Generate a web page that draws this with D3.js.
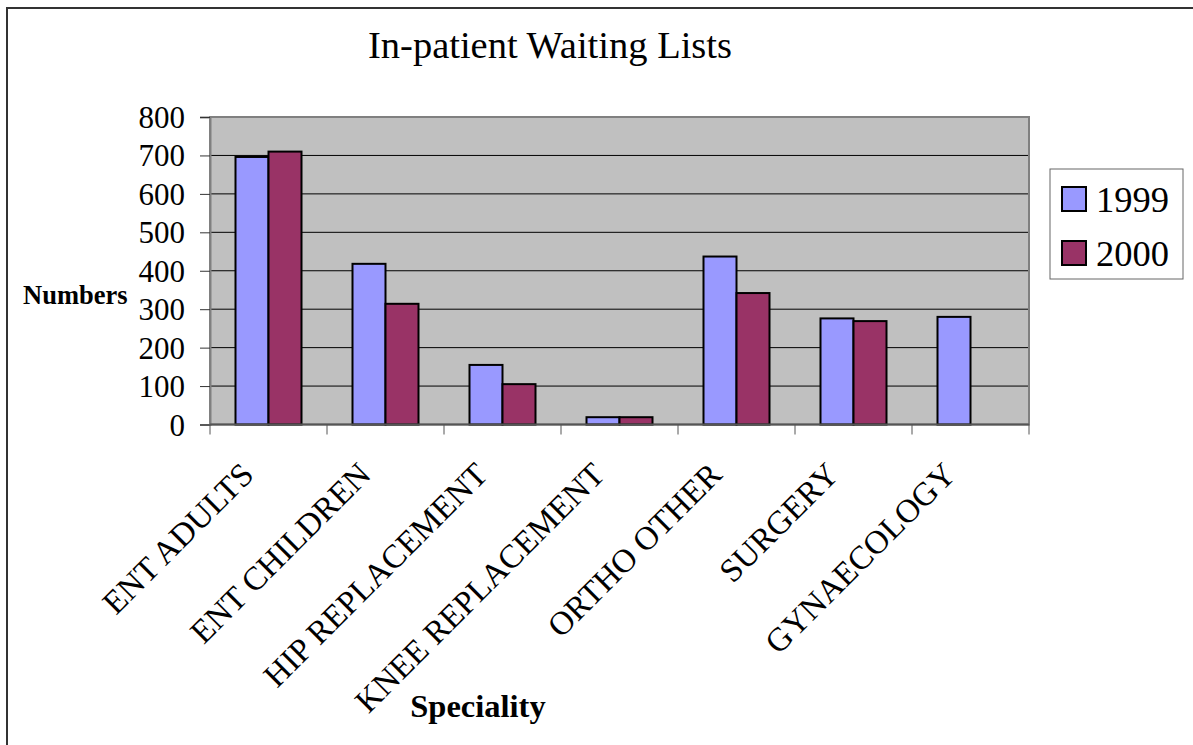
<!DOCTYPE html>
<meta charset="utf-8">
<style>
	body { margin: 0; background: #fff; }
	text { font-family: "Liberation Serif", "Times New Roman", serif; fill: #000; }
</style>
<body>
<svg id="svg"></svg>
<script src="https://cdn.jsdelivr.net/npm/d3@7"></script>
<script>

// DATA
var categories = [ "ENT ADULTS", "ENT CHILDREN", "HIP REPLACEMENT", "KNEE REPLACEMENT", "ORTHO OTHER", "SURGERY", "GYNAECOLOGY" ]
var series = [ "1999", "2000" ]
var values1999 = [ 696, 418, 155, 19, 437, 276, 280 ]
var values2000 = [ 710, 314, 105, 19, 342, 269, null ]
var yTicks = [ 0, 100, 200, 300, 400, 500, 600, 700, 800 ]
var colors = [ "#9999ff", "#993366" ]

// CANVAS
var width = 1193
var height = 745

var svg = d3.select( '#svg' )
	.attr( 'width', width )
	.attr( 'height', height )

// outer frame
svg.append( 'rect' )
	.attr( 'x', 7 ).attr( 'y', 8 )
	.attr( 'width', width + 10 ).attr( 'height', height + 10 )
	.attr( 'fill', 'none' )
	.attr( 'stroke', '#333' )
	.attr( 'stroke-width', 2 )

// SCALES
var plot = { left: 210, right: 1029, top: 117, bottom: 424.5 }

var x0 = d3.scaleBand()
	.domain( categories )
	.range([ plot.left, plot.right ])

var group = x0.bandwidth() * 66 / 117
var x1 = d3.scaleBand()
	.domain( series )
	.range([ ( x0.bandwidth() - group ) / 2, ( x0.bandwidth() + group ) / 2 ])

var y = d3.scaleLinear()
	.domain([ 0, 800 ])
	.range([ plot.bottom, plot.top ])

// PLOT AREA
svg.append( 'rect' )
	.attr( 'x', plot.left ).attr( 'y', plot.top )
	.attr( 'width', plot.right - plot.left )
	.attr( 'height', plot.bottom - plot.top )
	.attr( 'fill', '#c0c0c0' )

// gridlines
svg.append( 'g' )
	.selectAll( 'line' )
	.data( yTicks.filter( d => d > 0 && d < 800 ))
	.enter()
	.append( 'line' )
		.attr( 'x1', plot.left ).attr( 'x2', plot.right )
		.attr( 'y1', d => y( d )).attr( 'y2', d => y( d ))
		.attr( 'stroke', '#000' )
		.attr( 'stroke-width', 1 )

// plot border
svg.append( 'rect' )
	.attr( 'x', plot.left ).attr( 'y', plot.top )
	.attr( 'width', plot.right - plot.left )
	.attr( 'height', plot.bottom - plot.top )
	.attr( 'fill', 'none' )
	.attr( 'stroke', '#808080' )
	.attr( 'stroke-width', 2 )

// BARS
var rows = categories.map( ( c, i ) => ({ cat: c, vals: [ values1999[ i ], values2000[ i ]] }))

var groups = svg.append( 'g' )
	.selectAll( 'g' )
	.data( rows )
	.enter()
	.append( 'g' )
		.attr( 'transform', d => 'translate(' + x0( d.cat ) + ',0)' )

groups.selectAll( 'rect' )
	.data( d => d.vals.map( ( v, j ) => ({ s: series[ j ], v: v, j: j })).filter( d => d.v != null ))
	.enter()
	.append( 'rect' )
		.attr( 'x', d => x1( d.s ))
		.attr( 'y', d => y( d.v ))
		.attr( 'width', x1.bandwidth() )
		.attr( 'height', d => y( 0 ) - y( d.v ))
		.attr( 'fill', d => colors[ d.j ])
		.attr( 'stroke', '#000' )
		.attr( 'stroke-width', 2 )

// AXES
var yAxis = svg.append( 'g' )
	.attr( 'transform', 'translate(' + plot.left + ',0)' )
	.call( d3.axisLeft( y ).tickValues( yTicks ).tickSize( 10 ).tickPadding( 15 ).tickFormat( d3.format( 'd' )))
yAxis.select( '.domain' ).attr( 'stroke', '#808080' ).attr( 'stroke-width', 2 )
yAxis.selectAll( '.tick line' ).attr( 'stroke', '#333' )
yAxis.selectAll( 'text' )
	.style( 'font-family', '"Liberation Serif", serif' )
	.style( 'font-size', '31px' )
	.attr( 'dy', '0.34em' )

var bounds = categories.map( c => x0( c )).concat([ plot.right ])
var xAxis = svg.append( 'g' )
xAxis.append( 'line' )
	.attr( 'x1', plot.left ).attr( 'x2', plot.right )
	.attr( 'y1', plot.bottom ).attr( 'y2', plot.bottom )
	.attr( 'stroke', '#555' )
	.attr( 'stroke-width', 2 )
xAxis.selectAll( '.xtick' )
	.data( bounds )
	.enter()
	.append( 'line' )
		.attr( 'x1', d => d ).attr( 'x2', d => d )
		.attr( 'y1', plot.bottom ).attr( 'y2', plot.bottom + 10 )
		.attr( 'stroke', '#555' )

xAxis.selectAll( 'text' )
	.data( categories )
	.enter()
	.append( 'text' )
		.attr( 'transform', d => 'translate(' + ( x0( d ) + x0.bandwidth() / 2 - 13 ) + ',' + ( plot.bottom + 52 ) + ') rotate(-45)' )
		.attr( 'text-anchor', 'end' )
		.style( 'font-size', '33px' )
		.text( d => d )

// TITLES
svg.append( 'text' )
	.attr( 'x', 550 ).attr( 'y', 58 )
	.attr( 'text-anchor', 'middle' )
	.style( 'font-size', '38.5px' )
	.text( 'In-patient Waiting Lists' )

svg.append( 'text' )
	.attr( 'x', 23 ).attr( 'y', 304 )
	.style( 'font-size', '26.5px' )
	.style( 'font-weight', 'bold' )
	.text( 'Numbers' )

svg.append( 'text' )
	.attr( 'x', 478 ).attr( 'y', 717 )
	.attr( 'text-anchor', 'middle' )
	.style( 'font-size', '32.5px' )
	.style( 'font-weight', 'bold' )
	.text( 'Speciality' )

// LEGEND
var legend = svg.append( 'g' )
legend.append( 'rect' )
	.attr( 'x', 1050 ).attr( 'y', 169 )
	.attr( 'width', 133 ).attr( 'height', 110 )
	.attr( 'fill', '#fff' )
	.attr( 'stroke', '#666' )
	.attr( 'stroke-width', 1 )

var items = legend.selectAll( '.item' )
	.data( series )
	.enter()
	.append( 'g' )
		.attr( 'transform', ( d, i ) => 'translate(1062,' + ( 187 + i * 54 ) + ')' )
items.append( 'rect' )
	.attr( 'width', 24 ).attr( 'height', 24 )
	.attr( 'fill', ( d, i ) => colors[ i ])
	.attr( 'stroke', '#000' )
	.attr( 'stroke-width', 2 )
items.append( 'text' )
	.attr( 'x', 34 ).attr( 'y', 25 )
	.style( 'font-size', '36.5px' )
	.text( d => d )

</script>
</body>
